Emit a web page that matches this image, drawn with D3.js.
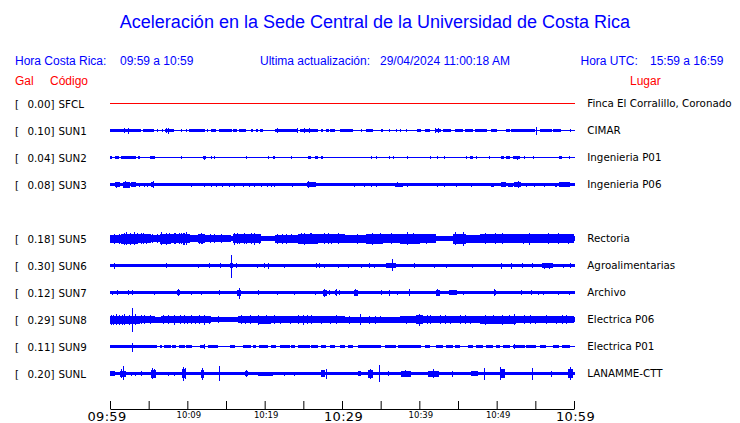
<!DOCTYPE html>
<html><head><meta charset="utf-8">
<script src="https://cdn.jsdelivr.net/npm/d3@7"></script>
<style>body{margin:0;background:#fff}svg{display:block}</style>
</head><body><svg id="c" width="740" height="423"></svg>
<script>
// ---------------- data ----------------
const titleText = "Aceleración en la Sede Central de la Universidad de Costa Rica";
const localRange = "09:59 a 10:59";
const utcRange = "15:59 a 16:59";
const updated = "29/04/2024 11:00:18 AM";

const rowSlots = ["SFCL","SUN1","SUN2","SUN3","SUN4","SUN5","SUN6","SUN7","SUN8","SUN9","SUNL"];
const codes  = ["SFCL","SUN1","SUN2","SUN3","SUN5","SUN6","SUN7","SUN8","SUN9","SUNL"];
const peaks  = [0.00, 0.10, 0.04, 0.08, 0.18, 0.30, 0.12, 0.29, 0.11, 0.20];
const places = ["Finca El Corralillo, Coronado","CIMAR","Ingenieria P01","Ingenieria P06","Rectoria",
                "Agroalimentarias","Archivo","Electrica P06","Electrica P01","LANAMME-CTT"];
// background noise half-amplitude of each trace (arbitrary units)
const baseAmp = [0, 0.5, 0.5, 1.5, 2.5, 1.7, 1.7, 2.5, 0.6, 1.6];

// bursts: [startMinute, endMinute, amplitudeUp, amplitudeDown(optional)]
const sfclBursts = [];
const sun1Bursts = [[0,1.68,1.5],[1.7,2.75,1.5],[1.9,1.9,2.5],[2.41,2.41,3],[2.76,3.97,1.5],[4.27,5.69,1.5],[6.08,6.08,1.5],[6.7,6.9,1.3],[7.07,7.93,1.5],[7.3,7.3,2.5],[7.59,7.59,3],[7.93,8.28,1.5],[9.31,9.31,1.5],[9.87,9.87,1.5],[10.17,12.33,1.5],[12.67,12.67,1.5],[13.0,13.66,1.5],[14.05,15.78,1.5],[15.95,16.47,1.5],[16.68,17.63,1.5],[18.28,18.53,1.5],[18.92,19.14,1.5],[19.4,19.74,1.5],[21.29,24.31,1.5],[21.64,21.64,2.5],[24.31,24.31,2.5],[24.53,26.9,1.5],[25.17,25.17,2.5],[25.86,25.86,2.5],[27.24,27.54,1.5],[27.97,28.3,1.5],[28.5,29.05,1.5],[29.7,31.42,1.5],[32.5,32.5,1.5],[33.15,34.0,1.5],[35.0,35.3,1.5],[36.2,36.2,1.3],[37.0,37.0,1.3],[37.5,37.5,1.3],[38.3,38.3,1.3],[39.7,40.25,1.5],[40.7,41.34,1.5],[41.99,42.8,1.5],[42.1,42.1,2.5],[42.5,42.5,2.5],[43.1,44.14,1.5],[44.6,45.65,1.5],[45.9,46.97,1.5],[47.2,48.7,1.5],[49.3,50.0,1.5],[51.25,51.7,1.5],[51.9,54.9,1.5],[55.13,55.13,4],[55.57,57.1,1.5],[57.3,58.36,1.5],[59.6,59.6,1.5]];
const sun2Bursts = [[0,0.26,1.3],[0.6,1.12,1.3],[1.47,3.4,1.3],[3.62,3.84,1.3],[5.2,5.78,1.3],[9.31,9.31,1.5],[12.0,12.46,1.3],[12.2,12.2,2],[13.1,13.1,1.3],[13.53,13.53,1.3],[17.63,17.63,1.3],[20.5,20.5,1.5],[21.08,21.38,1.3],[23.45,23.45,1.3],[25.6,25.95,1.3],[26.47,26.9,1.3],[27.24,27.54,1.3],[33.8,33.8,1.5],[34.5,34.5,1.3],[36.2,36.2,1.3],[36.7,36.7,1.3],[38.53,38.53,1.3],[41.4,41.4,1.3],[42.4,42.4,1.5],[43.27,43.27,1.3],[46.08,46.08,1.3],[46.5,46.94,1.3],[47.4,47.4,1.3],[49.1,49.1,1.3],[50.6,51.0,1.3],[51.25,51.7,1.3],[52.1,53.0,1.3],[52.7,52.7,2],[53.6,53.6,1.3],[54.7,54.7,1.3],[58.1,58.5,1.3],[59.45,59.45,1.3]];
const sun3Bursts = [[0.6,1.25,2.5],[0.9,0.9,3],[1.68,2.54,3],[2.0,2.0,3.5],[2.76,3.4,2.5],[3.84,3.84,2],[4.48,4.48,2],[4.9,4.9,2],[5.34,5.69,2.5],[5.6,5.6,3.3],[10.5,10.5,2],[12.24,12.24,2],[13.1,13.1,2],[13.75,13.75,2],[14.6,14.6,2],[15.47,15.47,2],[16.12,16.12,2],[17.2,17.2,2],[18.06,18.06,2],[18.7,18.7,2],[19.57,19.57,2],[20.4,20.4,2],[20.86,20.86,2],[21.3,21.3,2],[23.66,23.66,2],[25.5,26.7,2.3],[25.69,25.69,3.3],[26.25,26.25,2.5],[26.55,26.55,2.5],[31.6,31.6,2],[32.9,32.9,2],[33.8,33.8,2],[34.45,34.45,2],[36.8,37.9,2],[37.2,37.2,2.5],[38.5,38.5,2],[42.4,42.4,2],[43.27,43.27,2],[44.8,44.8,2],[46.7,46.7,2],[49.3,49.7,2],[50.6,51.25,2.5],[51.5,52.1,2],[52.3,53.2,2.5],[52.8,52.8,3.3],[53.85,53.85,2],[54.9,54.9,2],[56.2,56.2,2],[57.5,57.8,2],[58.1,59.44,2.2]];
const sun5Bursts = [[0,1.47,4],[1.47,3.62,5],[2.11,2.11,6.5],[2.6,2.6,6],[3.19,3.19,6.5],[3.62,5.34,4.5],[4.05,4.05,5.5],[4.7,4.7,5],[5.34,6.42,3.5],[6.42,7.93,5],[6.64,6.64,6.5],[7.28,7.28,6],[7.93,10.3,4.5],[8.5,8.5,5.5],[9.3,9.3,5.5],[9.6,9.6,6],[9.87,9.87,6.5],[10.3,11.38,3.5],[11.38,12.24,4.5],[11.8,11.8,5.5],[12.24,15.7,3.5],[13.0,13.0,4.5],[14.4,14.4,4.5],[15.9,19.57,4.5],[16.1,16.1,6],[16.8,16.8,5],[17.6,17.6,5],[18.7,18.7,6],[21.3,24.3,4],[22.3,22.3,5],[23.5,23.5,4.5],[24.3,26.9,5],[25.17,25.17,6],[25.9,25.9,5.5],[26.9,30.34,4.5],[28.2,28.2,5.5],[29.5,29.5,5.5],[30.34,33.15,4],[32.0,32.0,5],[33.15,35.3,5],[34.0,34.0,6],[35.0,35.0,5.5],[35.3,37.46,4.5],[36.4,36.4,5.5],[37.46,40.05,5],[38.5,38.5,6.5],[39.2,39.2,5.5],[40.05,42.2,4.5],[40.9,40.9,5],[44.36,46.08,5],[44.7,44.7,6.5],[45.7,45.7,7],[46.08,47.8,4],[47.8,52.5,4.5],[48.5,48.5,5.5],[49.8,49.8,5.5],[50.8,50.8,5.5],[52.5,55.57,4.5],[53.5,53.5,5],[54.3,54.3,6],[55.57,60,4.5],[56.7,56.7,5.5],[58.0,58.0,5.5],[59.3,59.3,5],
  [0.6,0.6,5],[1.25,1.25,5],[1.9,1.9,6],[3.62,3.62,5.5],[4.27,4.27,5.5],[5.56,5.56,4.5],[6.2,6.2,4.5],[7.7,7.7,5.5],[8.36,8.36,5.5],[9.0,9.0,5.5],[9.44,9.44,6],[11.6,11.6,5],[12.0,12.0,5],[13.5,13.5,4.5],[16.55,16.55,5.5],[17.4,17.4,5.5],[18.28,18.28,5.5],[19.35,19.35,5],[21.7,21.7,5],[22.8,22.8,5],[24.74,24.74,5.5],[26.0,26.0,5.5],[27.8,27.8,5.5],[28.6,28.6,5]];
const sun6Bursts = [[0.52,0.52,3],[7.28,7.28,2.5],[11.38,11.38,2],[12.9,12.9,2.5],[14.3,14.3,2.5],[15.5,15.9,2.5],[15.69,15.69,10.3,12.3],[16.34,16.34,2.5],[19.05,19.05,2],[20.0,20.0,2.5],[20.5,20.5,3],[22.6,22.6,2],[26.7,26.7,2.5],[27.1,27.1,2.5],[27.76,27.76,2],[29.5,29.5,2],[30.9,30.9,2],[32.5,32.5,2],[33.6,33.6,2.5],[34.2,34.2,2],[35.7,37.0,2.3],[36.5,36.5,6.3,5.3],[39.4,39.4,2.5],[42.0,42.0,2],[43.5,43.5,2],[46.9,46.9,2],[50.6,50.6,3],[51.9,51.9,3],[53.4,53.4,2.5],[54.6,54.6,2.5],[55.8,57.3,2.5],[56.2,56.2,3],[56.8,56.8,3],[58.6,58.6,2],[59.6,59.6,2.5]];
const sun7Bursts = [[0.26,0.26,2],[0.95,0.95,2.5],[2.41,2.41,2.5],[2.97,2.97,2.5],[5.78,5.78,2],[8.7,9.1,2.5],[8.88,8.88,3.5],[10.5,10.5,2],[11.8,11.8,2],[14.18,14.18,2.5],[16.4,17.0,3],[16.8,16.8,4.7,6.3],[19.2,19.2,2.5],[21.6,21.6,2],[23.8,23.8,2],[26.55,26.55,2],[27.6,28.0,3],[27.76,27.76,4],[28.4,28.4,2.5],[29.1,29.4,2.5],[29.3,29.3,3.5],[29.7,29.7,2.5],[31.5,32.1,3],[31.8,31.8,3.7],[35.1,35.1,2.5],[36.2,36.2,3],[37.2,37.2,2],[38.7,38.7,3.3],[42.2,42.65,3],[42.4,42.4,3.7],[43.9,44.9,2.5],[45.65,45.65,2],[49.6,49.9,2.5],[49.7,49.7,3.5],[53.2,53.2,2.5],[54.5,54.5,2.5],[55.35,55.35,2],[56.0,56.0,2],[58.0,58.0,2],[59.4,59.4,2]];
const sun8Bursts = [[0,3.84,4],[0.5,0.5,5],[1.2,1.2,5],[1.9,1.9,5.5],[2.5,2.5,5],[2.85,2.85,12,12.7],[3.3,3.3,5.5],[3.84,5.78,3.5],[4.5,4.5,4.5],[5.78,6.64,3],[6.64,13.1,3.5],[7.5,7.5,4.5],[8.36,8.36,5],[9.1,9.1,4.5],[10.0,10.0,4],[11.0,11.0,4],[12.24,12.24,5],[12.9,12.9,4],[14.0,14.0,3.5],[16.55,19.14,3.5],[17.5,17.5,4],[19.14,20.86,4],[19.22,19.22,5],[20.2,20.2,4.5],[20.86,24.3,3.5],[22.0,22.0,4],[23.3,23.3,4],[24.3,30.34,3.5],[24.96,24.96,5],[26.0,26.0,4.5],[27.3,27.3,4],[28.5,28.5,4],[30.34,32.3,3],[31.0,31.0,4],[32.4,32.4,5.5],[32.3,37.46,3],[33.5,33.5,4],[35.0,35.0,3.5],[37.46,39.6,3.5],[38.4,38.4,4],[39.6,40.5,4.5],[40.0,40.0,6],[40.5,47.8,3.5],[41.5,41.5,4.5],[42.8,42.8,4.5],[44.0,44.0,4],[45.3,45.3,4.5],[46.6,46.6,4],[47.8,52.5,4],[48.6,48.6,5],[50.8,50.8,5],[51.7,51.7,4.5],[52.3,52.3,5.5],[52.5,60,3.5],[53.6,53.6,4.5],[55.0,55.0,4],[56.5,56.5,4.5],[57.8,57.8,4],[59.0,59.0,4.5],
  [0.2,0.2,5],[0.9,0.9,5.5],[1.6,1.6,5],[4.1,4.1,4.5],[5.2,5.2,4.5],[6.9,6.9,4.5],[9.6,9.6,4.5],[10.6,10.6,4.5],[11.6,11.6,4.5],[17.0,17.0,4.5],[18.2,18.2,4.5],[21.3,21.3,4.5],[24.4,24.4,4.5],[25.5,25.5,4.5],[29.3,29.3,4.5],[34.3,34.3,4],[41.0,41.0,4.5],[43.4,43.4,4.5],[46.0,46.0,4.5],[49.6,49.6,4.5],[54.4,54.4,4.5],[58.5,58.5,4.5]];
const sun9Bursts = [[0,6.12,1.7],[2.85,2.85,3.7,5.3],[6.42,6.72,1.5],[6.98,7.84,1.5],[8.06,8.58,1.5],[8.88,9.66,1.5],[9.87,10.6,1.5],[11.6,12.24,1.5],[12.24,12.24,2.5],[12.67,13.97,1.5],[15.47,16.12,1.5],[17.2,18.28,1.5],[18.5,18.92,1.5],[19.22,20.43,1.5],[20.86,21.5,1.5],[21.94,23.23,1.5],[23.45,23.88,1.5],[24.3,25.82,1.5],[26.03,26.9,1.5],[27.33,27.97,1.5],[28.4,29.05,1.5],[29.7,30.35,1.5],[30.78,31.42,1.5],[32.1,35.1,1.5],[35.5,37.0,1.5],[37.25,40.26,1.5],[40.7,41.34,1.5],[42.2,43.06,1.5],[43.5,44.36,1.5],[44.6,45.2,1.5],[46.3,46.94,1.5],[47.37,48.2,1.5],[48.67,49.53,1.5],[49.96,50.4,1.5],[50.8,51.7,1.5],[52.1,53.6,1.5],[52.3,52.3,2.5],[53.85,55.14,1.5],[55.57,56.4,1.5],[57.3,58.1,1.5],[58.4,59.44,1.5]];
const sunlBursts = [[0,0.6,2.5],[1.25,2.1,3],[1.8,1.8,7.3,6.7],[1.5,1.5,4.5],[2.76,2.76,2],[3.28,3.28,2],[4.05,4.05,2.5],[5.26,6.0,4],[5.5,5.5,5.3],[5.8,5.8,4.5],[7.5,7.5,2],[8.36,8.36,2],[9.3,9.87,4.5],[9.44,9.44,7],[9.7,9.7,5.5],[11.8,12.16,4],[11.98,11.98,6],[14.1,14.1,7.7],[17.5,17.8,2.5],[17.63,17.63,3.5],[19.1,21.1,2],[22.6,22.6,2],[23.9,23.9,2],[27.3,27.8,3.5],[27.97,27.97,5],[32.1,32.5,2.5],[33.4,34.0,4],[33.7,33.7,5],[34.9,34.9,8.3],[36.0,36.0,2.5],[37.6,38.9,3],[38.2,38.2,3.5],[41.1,42.6,3],[41.8,41.8,4.5],[44.3,44.3,3],[46.7,47.6,2.5],[48.4,48.4,6],[50.4,51.1,4.5],[50.5,50.5,6.7],[54.6,54.6,6],[57.1,57.1,3],[59.2,59.9,4.5],[59.6,59.6,6.5]];
const bursts = [sfclBursts, sun1Bursts, sun2Bursts, sun3Bursts, sun5Bursts, sun6Bursts, sun7Bursts, sun8Bursts, sun9Bursts, sunlBursts];

const tickMinutes = d3.range(0, 61, 5);
const labelMinutes = [0, 10, 20, 30, 40, 50, 60];
const labelTexts = ["09:59","10:09","10:19","10:29","10:39","10:49","10:59"];
const majorLabels = ["09:59","10:29","10:59"];

// ---------------- drawing ----------------
const BLUE = "#0000ff", RED = "#ff0000";
const svg = d3.select("#c");
svg.append("rect").attr("width", 740).attr("height", 423).attr("fill", "#fff");

const x = d3.scaleLinear().domain([0, 60]).range([110, 574]);
const y = d3.scalePoint().domain(rowSlots).range([103, 373]);
const amp = d3.scaleLinear().domain([0, 10]).range([0, 10]);

const sans = "'Liberation Sans', Arial, Helvetica, sans-serif";
const dv = "'DejaVu Sans', sans-serif";

svg.append("text").attr("x", 375).attr("y", 28).attr("text-anchor", "middle")
  .attr("font-family", sans).attr("font-size", 18).attr("fill", BLUE).text(titleText);

const hdr = [["Hora Costa Rica:", 15], [localRange, 120], ["Ultima actualización:", 260], [updated, 380],
             ["Hora UTC:", 580.5], [utcRange, 650]];
svg.append("g").selectAll("text").data(hdr).join("text")
  .attr("x", d => d[1]).attr("y", 65).attr("font-family", sans).attr("font-size", 12)
  .attr("fill", BLUE).text(d => d[0]);
const hdr2 = [["Gal", 15], ["Código", 50], ["Lugar", 630]];
svg.append("g").selectAll("text").data(hdr2).join("text")
  .attr("x", d => d[1]).attr("y", 85).attr("font-family", sans).attr("font-size", 12)
  .attr("fill", RED).text(d => d[0]);

const rows = svg.append("g").selectAll("g").data(codes).join("g")
  .attr("transform", d => `translate(0,${y(d) + 0.5})`);

// labels
rows.append("text").attr("x", 15).attr("y", 4).attr("font-family", dv).attr("font-size", 10.3)
  .attr("fill", "#000").text("[");
rows.append("text").attr("x", 54.5).attr("y", 4).attr("text-anchor", "end").attr("font-family", dv)
  .attr("font-size", 10.3).attr("fill", "#000").text((d, i) => d3.format(".2f")(peaks[i]) + "]");
rows.append("text").attr("x", 58.5).attr("y", 4).attr("font-family", dv).attr("font-size", 10.3)
  .attr("fill", "#000").text(d => d);
rows.append("text").attr("x", 587.3).attr("y", 3.5).attr("font-family", dv).attr("font-size", 10.3)
  .attr("fill", "#000").text((d, i) => places[i]);

// traces
rows.each(function (code, i) {
  const g = d3.select(this).append("g").attr("shape-rendering", "crispEdges");
  const b = bursts[i];
  if (b.length === 0) {
    g.append("line").attr("x1", x(0)).attr("x2", x(60) + 0.5).attr("y1", 0).attr("y2", 0)
      .attr("stroke", RED).attr("stroke-width", 1);
    return;
  }
  const base = Math.max(amp(baseAmp[i]), 0.5);
  g.append("rect").attr("x", x(0)).attr("width", x(60) - x(0) + 1)
    .attr("y", -base).attr("height", 2 * base).attr("fill", BLUE);
  g.selectAll("rect.b").data(b).join("rect").attr("class", "b")
    .attr("x", d => d[0] === d[1] ? x(d[0]) - 0.5 : x(d[0]))
    .attr("width", d => Math.max(1, x(d[1]) - x(d[0])))
    .attr("y", d => -amp(d[2]))
    .attr("height", d => amp(d[2]) + amp(d.length > 3 ? d[3] : d[2]))
    .attr("fill", BLUE);
});

// time axis
const axis = d3.axisBottom(x).tickValues(tickMinutes).tickSizeInner(-8).tickSizeOuter(0).tickFormat("");
const ax = svg.append("g").attr("transform", "translate(0,409)").call(axis);
ax.selectAll("path,line").attr("stroke", "#000").attr("stroke-width", 1);

svg.append("g").selectAll("text").data(labelMinutes).join("text")
  .attr("x", (d, i) => x(d) + (i === 0 ? -3 : 1.5))
  .attr("y", (d, i) => majorLabels.includes(labelTexts[i]) ? 420.5 : 418)
  .attr("text-anchor", "middle").attr("font-family", dv)
  .attr("font-size", (d, i) => majorLabels.includes(labelTexts[i]) ? 13 : 8.5)
  .attr("letter-spacing", (d, i) => majorLabels.includes(labelTexts[i]) ? 0.3 : 0)
  .attr("fill", "#000").text((d, i) => labelTexts[i]);
</script></body></html>
